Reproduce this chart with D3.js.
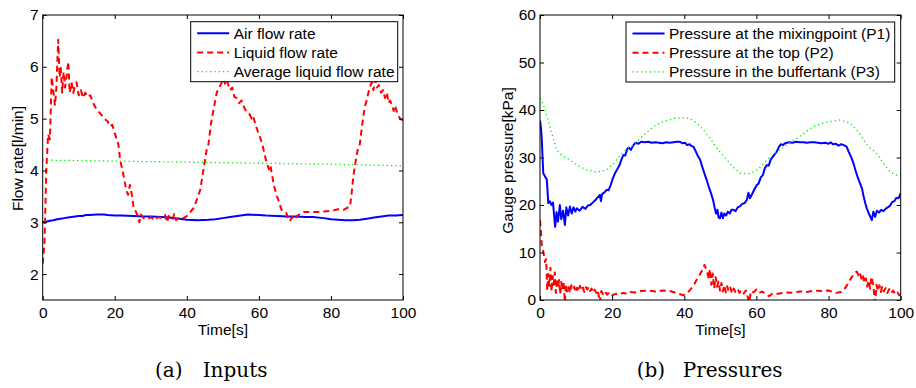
<!DOCTYPE html>
<html>
<head>
<meta charset="utf-8">
<script src="https://cdn.jsdelivr.net/npm/d3@7"></script>
<style>
  body { margin: 0; background: #fff; }
  svg { display: block; }
  .tick text, .lbl, .leg { font-family: "Liberation Sans", Arial, sans-serif; font-size: 15.5px; fill: #000; }
  .cap { font-family: "DejaVu Serif", serif; font-size: 20px; fill: #000; }
</style>
</head>
<body>
<svg id="chart" width="916" height="388"></svg>
<script>
// ---- data ----
const timeTicks = [0, 20, 40, 60, 80, 100];
const flowTicks = [2, 3, 4, 5, 6, 7];
const pressTicks = [0, 10, 20, 30, 40, 50, 60];

// (a) inputs [t, l/min]
const airFlow = [[0,3.00],[1,3.01],[2,3.03],[3,3.04],[4,3.06],[5,3.07],[6,3.08],[7,3.09],[8,3.10],[9,3.11],[10,3.12],[11,3.12],[12,3.14],[13,3.14],[15,3.15],[17,3.15],[18,3.14],[20,3.13],[22,3.13],[25,3.12],[28,3.11],[30,3.11],[33,3.10],[35,3.09],[38,3.07],[40,3.05],[43,3.04],[46,3.05],[48,3.06],[50,3.08],[52,3.10],[54,3.12],[57,3.15],[60,3.14],[62,3.13],[65,3.12],[68,3.11],[70,3.11],[73,3.10],[75,3.10],[78,3.08],[80,3.06],[82,3.05],[84,3.04],[86,3.04],[88,3.05],[90,3.07],[92,3.09],[94,3.11],[96,3.13],[98,3.13],[100,3.14]];

const liquidFlow = [[0,2.2],[0.5,2.6],[1,4.0],[1.5,4.7],[2,4.6],[2.5,5.8],[3,5.5],[3.4,5.25],[3.8,5.6],[4.3,6.52],[4.7,5.8],[5,6.0],[5.4,5.5],[5.8,5.9],[6.2,5.6],[6.6,5.8],[7.1,6.1],[7.5,5.5],[8,5.7],[8.5,5.5],[9,5.65],[9.4,5.7],[10,5.45],[10.6,5.55],[11.2,5.4],[11.8,5.5],[12.5,5.42],[13.2,5.45],[14,5.3],[15,5.17],[16,5.1],[17,5.0],[18,4.95],[18.6,4.85],[19.3,4.88],[20,4.72],[21,4.5],[21.5,4.2],[22.3,3.95],[22.8,3.76],[23.3,3.6],[23.7,3.53],[24.2,3.72],[24.7,3.55],[25.2,3.3],[25.6,3.24],[26.2,3.15],[26.8,3.0],[27.3,3.15],[28,3.08],[29,3.06],[30,3.1],[31,3.04],[32,3.1],[33,3.08],[34,3.14],[34.5,3.0],[35,3.12],[36,3.05],[36.5,3.16],[37,3.04],[38,3.1],[39,3.08],[40,3.12],[41,3.2],[41.8,3.27],[42.7,3.42],[43.7,3.62],[44.6,4.0],[45.5,4.4],[46,4.5],[46.7,4.9],[47.4,5.17],[48.3,5.5],[49,5.6],[49.7,5.7],[50.2,5.78],[50.7,5.65],[51.2,5.72],[52,5.55],[52.6,5.6],[53.2,5.42],[53.8,5.4],[54.5,5.3],[55.2,5.35],[56,5.2],[56.6,5.13],[57.3,5.1],[58,5.0],[58.4,5.05],[59.2,4.85],[60,4.7],[61,4.5],[61.6,4.3],[62.2,4.14],[62.8,4.02],[63.2,4.1],[63.5,3.97],[64.2,3.7],[65,3.5],[65.4,3.43],[66.3,3.24],[67,3.2],[67.6,3.18],[68.1,3.08],[68.6,3.02],[69.2,3.1],[70,3.05],[70.5,3.12],[71.5,3.16],[72.5,3.2],[74,3.2],[76,3.2],[78,3.21],[80,3.22],[82,3.25],[83.5,3.24],[84.5,3.28],[85.3,3.3],[85.8,3.6],[86.2,3.88],[86.9,4.2],[87.6,4.46],[88,4.5],[88.7,4.9],[89.4,5.23],[89.9,5.35],[90.4,5.5],[90.8,5.6],[91.3,5.7],[91.8,5.55],[92.3,5.75],[92.8,5.6],[93.3,5.65],[93.9,5.5],[94.5,5.55],[95,5.4],[95.5,5.5],[96,5.3],[96.4,5.35],[97,5.25],[97.4,5.15],[97.8,5.25],[98.4,5.1],[99.2,5.0],[100,4.96]];

const avgLiquidFlow = [[0,4.20],[20,4.18],[40,4.16],[60,4.14],[80,4.12],[100,4.09]];

// (b) pressures [t, kPa]
const pMixing = [[0,37.8],[0.3,36],[0.5,33.7],[0.9,26.7],[1.4,26],[1.9,25.3],[2.3,20.4],[2.7,20.8],[3.2,20],[3.6,20.5],[4.2,15.4],[4.6,18.5],[5,16.5],[5.5,20],[5.9,17],[6.4,18.8],[6.9,15.8],[7.3,19.5],[7.8,17.8],[8.3,19.7],[8.8,18.2],[9.3,19.5],[9.8,18.6],[10.2,19.3],[11,18.8],[11.8,19.6],[12.6,19.2],[13.3,19.9],[13.9,20.0],[14.6,20.5],[15.3,21],[16,21.6],[16.6,22.1],[16.9,20.8],[17.2,22.3],[17.8,22.6],[18.5,23.2],[19,23.1],[19.6,24.2],[20.2,25.6],[20.8,26.7],[21.4,27.5],[22,28.3],[22.6,29.6],[23.1,30.5],[23.6,30.4],[24.2,31.8],[24.6,32.1],[25.2,31.6],[25.9,32.6],[26.5,33.1],[27.3,32.9],[28,33.3],[29,33.2],[30,33.3],[31,33.1],[32,33.2],[33,33.1],[34,33.0],[35,33.2],[36,33.1],[37,33.2],[38,33.3],[38.8,33.3],[39.5,33.0],[40.2,33.1],[40.8,32.6],[41.5,32.8],[42,32.4],[42.5,32.3],[43,31.6],[43.6,30.6],[44.4,29.5],[45,28.0],[45.6,26.6],[46.2,25.3],[46.8,23.8],[47.4,22.5],[48,21],[48.4,19.5],[48.8,18.2],[49.2,19.0],[49.5,17.4],[49.9,17.2],[50.3,18.4],[50.7,17.2],[51.1,18.2],[51.6,17.8],[52.1,18.6],[52.6,18.2],[53.1,19],[53.6,19],[54.2,18.7],[54.8,19.5],[55.4,19.7],[56,20.2],[56.7,20.4],[57.3,21],[57.8,22.6],[58.2,21.4],[58.8,22.3],[59.4,23.2],[60.1,24.2],[60.6,24.5],[61.2,25.8],[61.8,26.3],[62.3,27.7],[62.9,28.4],[63.4,28.3],[64,29.6],[64.6,30.2],[65.1,30.7],[65.6,31.2],[66.2,32.2],[66.8,32.8],[67.4,32.6],[67.9,33.0],[69,33.2],[70,33.1],[71,33.3],[72,33.2],[73,33.2],[74,33.1],[75,33.2],[76,33.2],[77,33.1],[78,33.0],[79,33.1],[80,32.9],[80.6,33.2],[81.2,32.8],[82,32.9],[82.8,32.5],[83.5,32.8],[84.2,32.6],[85,32.3],[85.6,31.2],[86.2,30.2],[86.9,28.8],[87.5,27.2],[88.1,25.8],[88.7,24.6],[89.3,23.4],[89.7,21.9],[90.2,20.3],[90.6,19.3],[91,18.5],[91.4,17.8],[92,16.8],[92.4,18.6],[92.9,17.5],[93.4,18.8],[94,18.4],[94.6,19],[95.2,18.7],[95.8,19.2],[96.4,19.5],[97,19.8],[97.6,20.6],[98.2,20.8],[98.8,21.5],[99.4,21.4],[100,22.5]];

const pTop = [[0,16.8],[0.3,14],[0.5,11.2],[0.8,10.6],[1.1,9.5],[1.4,8],[1.7,8.6],[2,2],[2.3,5.5],[2.6,3],[2.9,6.8],[3.2,1.8],[3.5,5],[3.8,3.2],[4.1,5.8],[4.4,1.5],[4.7,4.5],[5,2.6],[5.3,4.2],[5.6,1.2],[5.9,3.8],[6.2,2.2],[6.5,4],[6.9,-0.5],[7.2,3.3],[7.5,1.8],[7.9,2.9],[8.3,1.5],[8.7,3.1],[9.1,2.2],[9.5,2.8],[9.9,1.6],[10.3,2.6],[10.7,1.8],[11.1,3],[11.5,2],[11.9,2.6],[12.3,1.7],[12.7,2.7],[13.1,2.2],[13.5,2.8],[13.9,1.9],[14.3,2.4],[14.7,1.6],[15.1,2.2],[15.6,1.5],[16,2.1],[16.6,-0.5],[17,1.9],[17.5,1.2],[18,1.8],[18.6,1.1],[19.2,1.6],[20,1],[21,1.3],[22,1.1],[23,1.5],[24,1.3],[25,1.7],[26.5,1.6],[28,1.9],[30,2.0],[32,1.8],[34,2.0],[36,1.9],[38,1.4],[39.7,1.0],[40.5,1.3],[41.5,2.0],[42.5,3.0],[43.4,4.2],[44.2,5.2],[45,6.3],[45.6,7.4],[46,6.6],[46.4,5.8],[46.8,4.4],[47.1,6.5],[47.5,3.2],[47.9,5.6],[48.3,2.4],[48.7,4.8],[49.1,2.8],[49.5,3.9],[49.9,2.0],[50.3,3.6],[50.7,1.8],[51.1,3.1],[51.5,1.6],[51.9,2.9],[52.3,1.8],[52.8,2.6],[53.2,1.4],[53.7,2.4],[54.2,1.7],[54.8,2.3],[55.3,1.5],[55.9,2.1],[56.5,1.4],[57.1,2.0],[58,-0.5],[58.5,1.9],[59.2,1.6],[60,2.2],[60.8,1.5],[61.6,1.8],[62.5,1.2],[63.5,0.8],[64.5,1.4],[66,1.3],[68,1.6],[70,1.5],[72,1.8],[74,1.7],[76,2.0],[78,1.9],[80,2.0],[82,1.5],[83.5,1.7],[84.5,2.4],[85.5,3.6],[86.4,4.8],[87.2,5.6],[87.8,6.0],[88.3,5.2],[88.7,5.8],[89.1,4.5],[89.5,5.3],[89.9,3.6],[90.3,4.6],[90.7,2.8],[91.1,4.1],[91.5,2.4],[91.9,4.9],[92.4,3.0],[92.9,-0.5],[93.3,3.2],[93.7,1.9],[94.1,3.1],[94.5,1.7],[94.9,2.9],[95.3,1.8],[95.8,2.5],[96.3,1.5],[96.8,2.3],[97.3,1.4],[97.9,2.0],[98.5,1.2],[99.1,1.6],[99.6,1.0],[100,1.2]];

const pBuffer = [[0,42.5],[1,41],[2,38.5],[3,35.8],[4,33.2],[4.6,31.6],[6,30.5],[8.3,29.5],[10.5,28.3],[12.9,27.4],[15.7,26.9],[18.5,27.4],[20.5,28.8],[22.2,30.5],[24,31.8],[25.9,32.6],[28,34.2],[31.4,36.5],[34,37.5],[37,38.2],[39.5,38.4],[41.6,38.2],[43.5,37.2],[45.3,35.8],[47.2,34],[49,32],[50.5,30.6],[51.8,29.5],[53.5,28],[55.4,26.7],[58.2,26.6],[60.5,27.5],[62.9,29.5],[64.7,30.6],[66.5,31.6],[69,33],[71.2,34],[73.5,35.3],[75.8,36.5],[79,37.4],[83.2,37.9],[85.8,37.3],[87.8,35.8],[89.5,34],[91,32.3],[93.3,30.9],[95,29],[97,27],[98.5,26.4],[100,26]];

const svg = d3.select('#chart');

const styles = {
  solid: { color: '#0000ff', width: 2, dash: null },
  dashed: { color: '#ff0000', width: 2, dash: '6,4' },
  dotted: { color: '#00ee00', width: 1.3, dash: '1.3,3' }
};

function drawPanel(p) {
  const x = d3.scaleLinear().domain([0, 100]).range([p.left, p.right]);
  const y = d3.scaleLinear().domain(p.yDomain).range([300, 15]);

  const clipId = 'clip-' + p.id;
  svg.append('clipPath').attr('id', clipId)
    .append('rect')
    .attr('x', p.left).attr('y', 15)
    .attr('width', p.right - p.left).attr('height', 285);

  const line = d3.line().x(d => x(d[0])).y(d => y(d[1]));
  const g = svg.append('g').attr('clip-path', `url(#${clipId})`);
  p.series.forEach(s => {
    const st = styles[s.style];
    g.append('path')
      .datum(s.data)
      .attr('d', line)
      .attr('fill', 'none')
      .attr('stroke', st.color)
      .attr('stroke-width', st.width)
      .attr('stroke-dasharray', st.dash)
      .attr('stroke-linejoin', 'round');
  });

  // axes, ticks inward
  const ax = (gen, tr) => svg.append('g').attr('transform', tr).call(gen)
    .call(a => a.select('.domain').remove())
    .call(a => a.selectAll('.tick line').attr('stroke', '#000'));

  ax(d3.axisBottom(x).tickValues(timeTicks).tickFormat(d3.format('d'))
      .tickSizeInner(-4).tickSizeOuter(0).tickPadding(7),
    'translate(0,300)');
  ax(d3.axisTop(x).tickValues(timeTicks).tickSizeInner(-4).tickSizeOuter(0).tickFormat(''),
    'translate(0,15)');
  ax(d3.axisLeft(y).tickValues(p.yTicks).tickFormat(d3.format('d'))
      .tickSizeInner(-4).tickSizeOuter(0).tickPadding(4),
    `translate(${p.left},0)`);
  ax(d3.axisRight(y).tickValues(p.yTicks).tickSizeInner(-4).tickSizeOuter(0).tickFormat(''),
    `translate(${p.right},0)`);

  svg.append('rect')
    .attr('x', p.left).attr('y', 15)
    .attr('width', p.right - p.left).attr('height', 285)
    .attr('fill', 'none').attr('stroke', '#000').attr('stroke-width', 1);

  // axis labels
  svg.append('text').attr('class', 'lbl')
    .attr('x', (p.left + p.right) / 2).attr('y', 335)
    .attr('text-anchor', 'middle').text('Time[s]');
  svg.append('text').attr('class', 'lbl')
    .attr('transform', `translate(${p.yLabelX},${p.yLabelY}) rotate(-90)`)
    .attr('text-anchor', 'middle').text(p.yLabel);

  // legend
  const lg = p.legend;
  svg.append('rect')
    .attr('x', lg.x).attr('y', lg.y).attr('width', lg.w).attr('height', lg.h)
    .attr('fill', '#fff').attr('stroke', '#000').attr('stroke-width', 1);
  p.series.forEach((s, i) => {
    const st = styles[s.style];
    const yy = lg.y + 11.5 + i * 19.2;
    svg.append('line')
      .attr('x1', lg.x + 6.5).attr('x2', lg.x + 38.5)
      .attr('y1', yy).attr('y2', yy)
      .attr('stroke', st.color).attr('stroke-width', st.width)
      .attr('stroke-dasharray', st.dash);
    svg.append('text').attr('class', 'leg')
      .attr('x', lg.x + 43).attr('y', yy + 5.3).text(s.name);
  });

  // caption
  const cap = svg.append('text').attr('class', 'cap').attr('y', 376.5);
  cap.append('tspan').attr('x', p.capX).text(p.capTag);
  cap.append('tspan').attr('x', p.capX + p.capGap).text(p.capText);
}

drawPanel({
  id: 'a', left: 42.7, right: 403, yDomain: [1.5, 7], yTicks: flowTicks,
  yLabel: 'Flow rate[l/min]', yLabelX: 23, yLabelY: 158.5,
  series: [
    { name: 'Air flow rate', data: airFlow, style: 'solid' },
    { name: 'Liquid flow rate', data: liquidFlow, style: 'dashed' },
    { name: 'Average liquid flow rate', data: avgLiquidFlow, style: 'dotted' }
  ],
  legend: { x: 190.7, y: 21.7, w: 207, h: 60 },
  capX: 155, capGap: 47.7, capTag: '(a)', capText: 'Inputs'
});

drawPanel({
  id: 'b', left: 540, right: 900.7, yDomain: [0, 60], yTicks: pressTicks,
  yLabel: 'Gauge pressure[kPa]', yLabelX: 513, yLabelY: 160.5,
  series: [
    { name: 'Pressure at the mixingpoint (P1)', data: pMixing, style: 'solid' },
    { name: 'Pressure at the top (P2)', data: pTop, style: 'dashed' },
    { name: 'Pressure in the buffertank (P3)', data: pBuffer, style: 'dotted' }
  ],
  legend: { x: 626, y: 22, w: 268.7, h: 60 },
  capX: 636.7, capGap: 46, capTag: '(b)', capText: 'Pressures'
});
</script>
</body>
</html>
